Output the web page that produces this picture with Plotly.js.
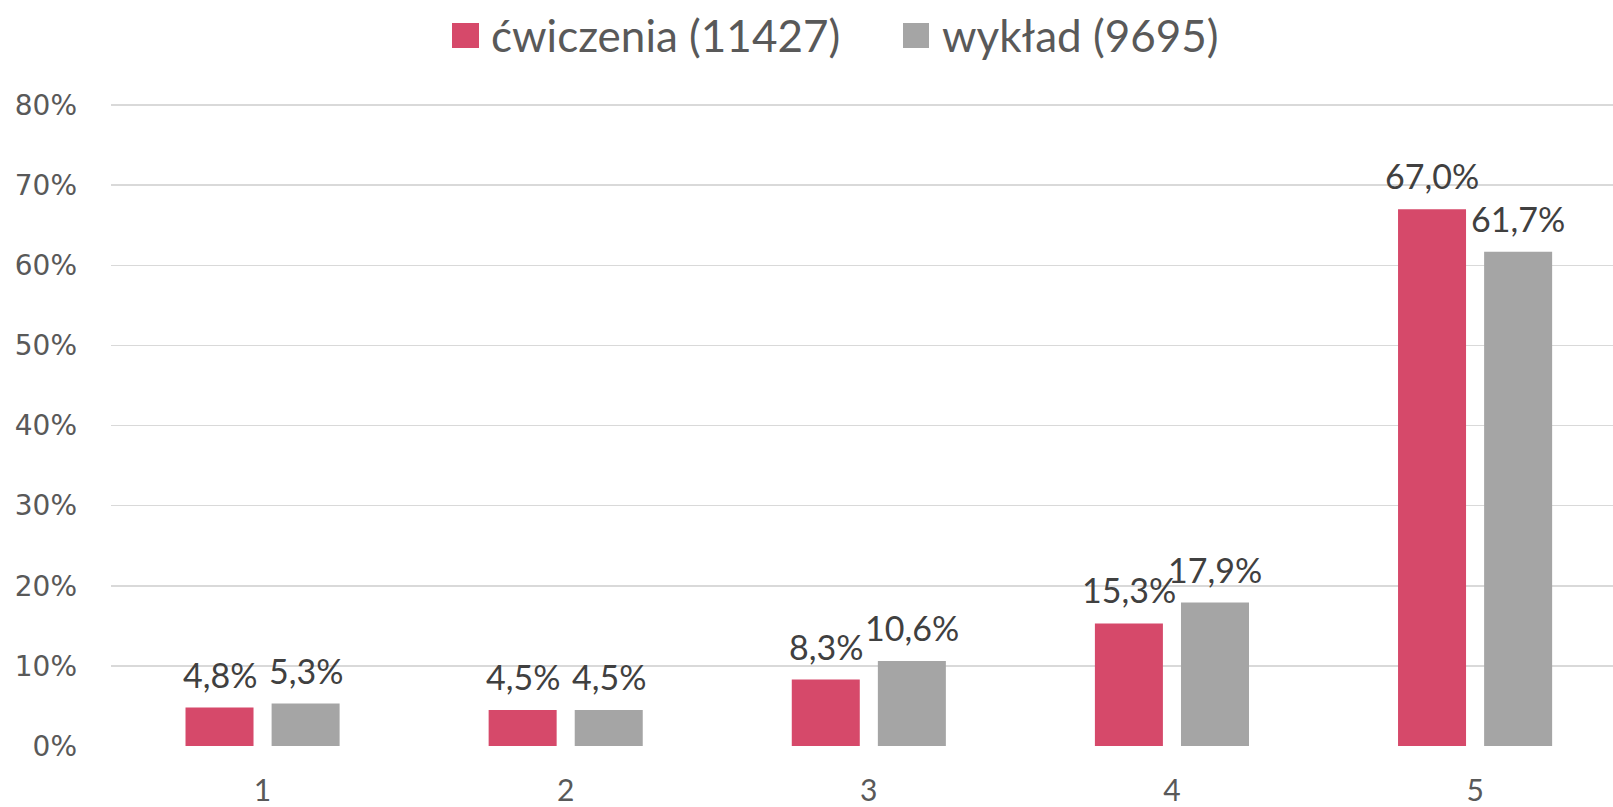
<!DOCTYPE html>
<html>
<head>
<meta charset="utf-8">
<script src="https://cdn.plot.ly/plotly-3.0.1.min.js"></script>
<style>html,body{margin:0;padding:0;background:#fff;}#chart{width:1613px;height:807px;}</style>
</head>
<body>
<div id="chart"></div>
<script>
const categories = ['1', '2', '3', '4', '5'];
const seriesNames = ['ćwiczenia (11427)', 'wykład (9695)'];
const cwiczenia = [4.8, 4.5, 8.3, 15.3, 67.0];
const wyklad = [5.3, 4.5, 10.6, 17.9, 61.7];
const yTicks = [0, 10, 20, 30, 40, 50, 60, 70, 80];

const colors = ['#D6496A', '#A5A5A5'];
const series = [cwiczenia, wyklad];
const bargap = 0.432, bargroupgap = 0.21;
const slot = (1 - bargap) / 2;

const W = 1613, H = 807;
const M = {l: 111, r: 0, t: 103, b: 61};
const plotW = W - M.l - M.r, plotH = H - M.t - M.b;
function px2x(px) { return (px - M.l) / plotW; }
function py2y(py) { return (H - M.b - py) / plotH; }

function fmt(v) { return v.toFixed(1).replace('.', ',') + '%'; }

const traces = series.map((vals, k) => ({
  type: 'bar',
  x: categories,
  y: vals,
  name: seriesNames[k],
  marker: {color: colors[k]},
  showlegend: false,
  hoverinfo: 'skip'
}));

const annotations = [];
series.forEach((vals, k) => {
  const off = (k === 0 ? -1 : 1) * slot / 2;
  vals.forEach((v, i) => {
    annotations.push({
      x: i + off, y: v, xref: 'x', yref: 'y',
      text: fmt(v), showarrow: false, yanchor: 'bottom', xanchor: 'center',
      yshift: 11,
      font: {family: 'Lato, sans-serif', size: 34, color: '#404040'}
    });
  });
});

// legend (drawn manually for large square keys)
const legX = [[452, 479, 489], [903, 929, 940]];
seriesNames.forEach((n, k) => {
  annotations.push({
    x: px2x(legX[k][2]), y: py2y(35), xref: 'paper', yref: 'paper',
    text: n, showarrow: false, xanchor: 'left', yanchor: 'middle',
    font: {family: 'Lato, sans-serif', size: 44, color: '#595959'}
  });
});
const shapes = seriesNames.map((n, k) => ({
  type: 'rect', xref: 'paper', yref: 'paper',
  x0: px2x(legX[k][0]), x1: px2x(legX[k][1]),
  y0: py2y(48), y1: py2y(23),
  fillcolor: colors[k], line: {width: 0}
}));

const layout = {
  width: W, height: H,
  margin: M,
  paper_bgcolor: '#ffffff', plot_bgcolor: '#ffffff',
  barmode: 'group', bargap: bargap, bargroupgap: bargroupgap,
  showlegend: false,
  xaxis: {
    type: 'category',
    range: [-0.5, 4.455],
    showgrid: false, zeroline: false, showline: false,
    ticks: '', ticklabelstandoff: 24,
    tickfont: {family: 'Lato, sans-serif', size: 30, color: '#595959'}
  },
  yaxis: {
    range: [0, 80.25],
    tickvals: yTicks,
    ticktext: yTicks.map(t => t + '%'),
    showgrid: true, gridcolor: '#D9D9D9', gridwidth: 1.5,
    zeroline: false, showline: false, ticks: '',
    ticklabelstandoff: 33,
    tickfont: {family: 'DejaVu Sans, sans-serif', size: 28, color: '#595959'}
  },
  annotations: annotations,
  shapes: shapes
};

Plotly.newPlot('chart', traces, layout, {displayModeBar: false, staticPlot: true});
</script>
</body>
</html>
